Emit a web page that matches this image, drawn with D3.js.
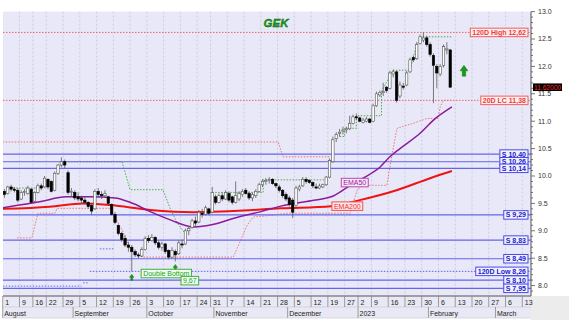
<!DOCTYPE html>
<html><head><meta charset="utf-8">
<script src="https://cdn.jsdelivr.net/npm/d3@7"></script>
<style>body{margin:0;background:#fff}svg{display:block}text{font-family:"Liberation Sans",Arial,sans-serif}</style>
</head><body><svg id="c" width="569" height="323"></svg>
<script>
// ---------- data ----------
const title = "GEK";
const weekLabels = ["1","9","16","22","29","5","12","19","26","3","10","17","24","31","7","14","21","28","5","12","19","27","2","9","16","23","30","6","13","20","27","6","13"];
const weekSlots = [0,5,9,13,18,23,28,33,38,43,48,53,58,62,67,72,77,82,87,92,97,102,106,110,115,120,125,130,135,140,145,150,155];
const monthLabels = ["August","September","October","November","December","2023","February","March"];
const monthSlots = [0,21,43,63,85,106,127,147];

const open = [9.72,9.68,9.80,9.76,9.74,9.58,9.70,9.68,9.76,9.54,
9.70,9.82,9.80,9.94,9.90,9.74,10.05,10.20,10.26,10.06,
9.70,9.70,9.62,9.60,9.56,9.52,9.46,9.40,9.72,9.66,
9.64,9.62,9.48,9.30,9.10,8.95,8.86,8.74,8.70,8.62,
8.56,8.54,8.66,8.86,8.82,8.88,8.78,8.70,8.76,8.64,
8.52,8.62,8.58,8.76,8.76,9.00,9.06,9.18,9.16,9.32,
9.30,9.40,9.34,9.62,9.52,9.64,9.58,9.68,9.62,9.52,
9.58,9.66,9.74,9.68,9.60,9.64,9.72,9.84,9.90,9.92,
9.94,9.86,9.80,9.74,9.66,9.60,9.56,9.46,9.76,9.82,
9.94,9.92,9.88,9.80,9.78,9.80,9.84,9.98,10.26,10.68,
10.78,10.82,10.84,10.86,10.96,11.08,11.06,10.98,11.00,11.04,
11.00,11.28,11.48,11.52,11.62,11.60,11.86,11.90,11.46,11.64,
11.66,11.90,12.16,12.14,12.42,12.48,12.52,12.40,12.20,12.00,
11.86,12.02,12.30,12.30];
const high = [9.76,9.82,9.84,9.80,9.78,9.74,9.76,9.82,9.78,9.72,
9.86,9.86,10.00,9.96,9.92,10.08,10.22,10.34,10.30,10.10,
9.78,9.74,9.70,9.64,9.62,9.54,9.48,9.76,9.78,9.72,
9.74,9.64,9.50,9.34,9.12,8.98,8.92,8.80,8.74,8.66,
8.60,8.70,8.90,8.92,8.94,8.90,8.82,8.80,8.78,8.66,
8.70,8.66,8.82,8.84,9.04,9.08,9.22,9.26,9.38,9.40,
9.46,9.42,9.80,9.66,9.68,9.70,9.74,9.72,9.64,9.90,
9.72,9.76,9.78,9.72,9.70,9.76,9.88,9.94,9.96,9.98,
9.96,9.88,9.84,9.76,9.70,9.64,9.60,9.82,9.84,9.98,
9.98,9.94,9.90,9.86,9.86,9.86,10.00,10.32,10.72,10.80,
10.86,10.90,10.90,11.10,11.12,11.14,11.08,11.06,11.08,11.06,
11.32,11.54,11.56,11.70,11.64,11.92,11.94,11.92,11.72,11.70,
11.92,12.16,12.20,12.44,12.58,12.62,12.56,12.44,12.24,12.04,
12.04,12.40,12.44,12.32];
const low = [9.60,9.66,9.72,9.70,9.52,9.56,9.64,9.66,9.50,9.52,
9.68,9.74,9.78,9.76,9.70,9.72,10.02,10.16,10.14,9.66,
9.62,9.56,9.54,9.50,9.48,9.40,9.29,9.38,9.62,9.58,
9.60,9.48,9.28,9.12,8.92,8.80,8.70,8.62,8.26,8.52,
8.50,8.52,8.64,8.78,8.80,8.74,8.66,8.64,8.58,8.48,
8.50,8.44,8.56,8.68,8.74,8.92,9.04,9.08,9.14,9.24,
9.28,9.28,9.32,9.48,9.50,9.54,9.56,9.52,9.48,9.50,
9.54,9.62,9.66,9.56,9.54,9.60,9.70,9.80,9.84,9.86,
9.84,9.78,9.70,9.60,9.54,9.44,9.23,9.44,9.72,9.80,
9.86,9.86,9.78,9.76,9.76,9.78,9.82,9.96,10.24,10.62,
10.72,10.76,10.78,10.84,10.94,11.02,10.98,10.96,10.98,10.96,
10.98,11.26,11.44,11.46,11.52,11.58,11.80,11.34,11.42,11.58,
11.64,11.88,12.08,12.12,12.40,12.44,12.36,12.18,11.33,11.60,
11.82,11.98,12.22,11.62];
const close = [9.66,9.80,9.76,9.74,9.56,9.70,9.72,9.78,9.52,9.70,
9.82,9.78,9.96,9.80,9.72,10.05,10.20,10.26,10.20,9.70,
9.72,9.60,9.58,9.56,9.52,9.44,9.36,9.72,9.66,9.64,
9.68,9.50,9.30,9.15,8.95,8.84,8.74,8.70,8.62,8.56,
8.54,8.66,8.86,8.82,8.88,8.78,8.70,8.76,8.62,8.52,
8.64,8.56,8.78,8.74,9.00,9.04,9.18,9.14,9.34,9.30,
9.42,9.32,9.70,9.52,9.64,9.58,9.70,9.56,9.52,9.64,
9.68,9.72,9.68,9.60,9.66,9.72,9.84,9.90,9.92,9.94,
9.86,9.82,9.74,9.64,9.58,9.48,9.34,9.78,9.80,9.94,
9.90,9.88,9.82,9.78,9.82,9.84,9.98,10.28,10.66,10.76,
10.80,10.84,10.86,10.96,11.08,11.06,11.00,11.02,11.04,10.98,
11.28,11.50,11.52,11.54,11.56,11.88,11.90,11.38,11.66,11.62,
11.88,12.12,12.12,12.40,12.54,12.52,12.40,12.22,12.02,11.88,
12.00,12.36,12.32,11.62];

const ema50Day = [0,5,11,19,26,33.5,38,44,50,57,63,69,77,83,92,98,103,107.5,112.5,115.5,118.5,124.5,128.5,134];
const ema50 = [9.42,9.47,9.53,9.62,9.62,9.60,9.52,9.35,9.20,9.07,9.12,9.23,9.35,9.45,9.55,9.62,9.80,9.96,10.16,10.35,10.50,10.78,11.02,11.26];
const ema200Day = [0,14,24,32,44,57,69,83,98,106.5,117.5,127.5,134];
const ema200 = [9.40,9.44,9.50,9.47,9.38,9.34,9.36,9.41,9.45,9.56,9.74,9.96,10.09];

// 20-day highest close (green dotted), null = gap
const hcDay = [1.3,11,null,17.7,35.6,38,47.8,50,52,54.4,null,62.5,77.7,77.7,97,null,100.5,102,102,105.5,105.5,113,113,116.4,121.5,123.5,125,134];
const hcVal = [9.78,9.78,null,10.26,10.26,9.75,9.75,9.40,9.15,8.95,null,9.70,9.70,9.93,9.93,null,10.72,10.72,10.87,10.87,11.10,11.10,11.54,11.93,11.93,12.40,12.54,12.54];
// 20-day lowest close (pink dotted)
const lcDay = [4.3,8.7,10.5,15.6,16.2,32,32.6,34.4,35.9,37.4,38.9,41.9,68.8,70.8,72.9,74.7,79.7,84.8,103.7,105.7,107.5,114.6,115.5,116.4,117.6,122.4,126.6,129.9,130.5,131.4,134];
const lcVal = [8.87,8.87,9.32,9.32,9.41,9.41,9.35,9.15,8.98,8.75,8.60,8.52,8.52,8.80,9.10,9.25,9.28,9.32,9.32,9.74,9.83,9.83,10.16,10.47,10.87,10.96,11.05,11.05,11.26,11.38,11.38];
// 120-day high history (pink dotted) and 120-day low history (blue dotted)
const hhDay = [0,82.2,83.6,97.6];
const hhVal = [10.62,10.62,10.35,10.35];
const llDay = [0,23.5,null,24,25.5,null,29,33];
const llVal = [7.99,7.99,null,8.05,8.05,null,8.67,8.67];

const supports = [10.40,10.26,10.14,9.29,8.83,8.49,8.10,7.95];
const high120 = 12.62, lc20 = 11.38, low120 = 8.26, lastPrice = 11.62;
const doubleBottomDays = [38.5,51.5];
const doubleBottomLows = [8.26,8.44];
const dbTarget = "9,67";
const yTicks = [8.0,8.5,9.0,9.5,10.0,10.5,11.0,11.5,12.0,12.5,13.0];

// ---------- layout ----------
const svg = d3.select("#c");
const L = 3, R = 531, T = 11.6, B = 296;
const x = d3.scaleLinear().domain([0,155]).range([2.7,522.3]);
const y = d3.scaleLinear().domain([7.81,13.0]).range([B,T]);
const fmt = v => v.toFixed(2).replace(".",",");

svg.append("rect").attr("width",569).attr("height",323).attr("fill","#fff");
svg.append("rect").attr("x",L).attr("y",T).attr("width",R-L).attr("height",B-T).attr("fill","#e8e8f8");
// bottom axis area
svg.append("rect").attr("x",L).attr("y",B).attr("width",R-L).attr("height",22).attr("fill","#e9e9f5");
svg.append("rect").attr("x",R).attr("y",B).attr("width",569-R).attr("height",24).attr("fill","#ececec");

const clip = svg.append("clipPath").attr("id","pc").append("rect").attr("x",L).attr("y",T).attr("width",R-L).attr("height",B-T);
const g = svg.append("g").attr("clip-path","url(#pc)");

// vertical grid
g.selectAll("line.vg").data(weekSlots).join("line")
  .attr("x1",d=>x(d)).attr("x2",d=>x(d)).attr("y1",T).attr("y2",B)
  .attr("stroke","#c6c6d0").attr("stroke-width",0.8).attr("stroke-dasharray","2,2");

const dotted = (sel, color, w) => sel.attr("fill","none").attr("stroke",color).attr("stroke-width",w||1).attr("stroke-dasharray","1.5,1.5");
const lineGen = d3.line().defined(d=>d[0]!==null).x(d=>x(d[0])).y(d=>y(d[1]));
const zip = (a,b)=>a.map((v,i)=>[v,b[i]]);

// historical dotted lines
g.append("path").attr("d",lineGen(zip(hhDay,hhVal))).call(dotted,"#f07070");
g.append("path").attr("d",lineGen(zip(llDay,llVal))).call(dotted,"#6a6af0");
g.append("path").attr("d",lineGen(zip(lcDay,lcVal))).call(dotted,"#f47474");
g.append("path").attr("d",lineGen(zip(hcDay,hcVal))).call(dotted,"#48b048");

// full-width reference lines
g.append("line").attr("x1",L).attr("x2",R).attr("y1",y(high120)).attr("y2",y(high120)).call(dotted,"#f06464");
g.append("line").attr("x1",L).attr("x2",R).attr("y1",y(lc20)).attr("y2",y(lc20)).call(dotted,"#f06464");
g.append("line").attr("x1",x(26)).attr("x2",R).attr("y1",y(low120)).attr("y2",y(low120)).call(dotted,"#6060ee");

// support lines
g.selectAll("line.sup").data(supports).join("line")
  .attr("x1",L).attr("x2",R).attr("y1",d=>y(d)).attr("y2",d=>y(d))
  .attr("stroke","#6464ee").attr("stroke-width",1.2);

// EMAs
const curve = d3.line().x(d=>x(d[0])).y(d=>y(d[1])).curve(d3.curveMonotoneX);
g.append("path").attr("d",curve(zip(ema200Day,ema200))).attr("fill","none").attr("stroke","#ee1414").attr("stroke-width",2);
g.append("path").attr("d",curve(zip(ema50Day,ema50))).attr("fill","none").attr("stroke","#8c1a9c").attr("stroke-width",1.5);

// candles
const cw = 2.4;
const cg = g.append("g");
close.forEach((c,i)=>{
  const cx = x(i+0.5);
  const up = c >= open[i];
  cg.append("line").attr("x1",cx).attr("x2",cx).attr("y1",y(high[i])).attr("y2",y(low[i]))
    .attr("stroke","#5a5a5a").attr("stroke-width",0.8);
  const top = y(Math.max(open[i],c)), bot = y(Math.min(open[i],c));
  cg.append("rect").attr("x",cx-cw/2).attr("y",top).attr("width",cw).attr("height",Math.max(0.8,bot-top))
    .attr("fill",up?"#ffffff":"#000000").attr("stroke",up?"#555":"#000").attr("stroke-width",0.6);
});

// tag helper
function tag(text, xPos, yPos, anchor, fill, stroke, color, bold, size){
  const gg = svg.append("g");
  const t = gg.append("text").attr("y",yPos).attr("dy","0.35em").attr("font-size",size||7)
    .attr("font-weight",bold?"bold":"normal").attr("fill",color).text(text);
  const w = t.node().getComputedTextLength();
  const bw = w+4, bh = (size||7)+1.5;
  const bx = anchor==="end" ? xPos-bw : xPos;
  gg.insert("rect","text").attr("x",bx).attr("y",yPos-bh/2).attr("width",bw).attr("height",bh)
    .attr("fill",fill).attr("stroke",stroke).attr("stroke-width",1);
  t.attr("x",bx+2);
  return gg;
}

// arrows
function upArrow(cx, tipY, h, wd){
  const hw = wd/2, hh = h*0.5, sw = wd*0.22;
  const p = `M${cx},${tipY} L${cx+hw},${tipY+hh} L${cx+sw},${tipY+hh} L${cx+sw},${tipY+h} L${cx-sw},${tipY+h} L${cx-sw},${tipY+hh} L${cx-hw},${tipY+hh} Z`;
  svg.append("path").attr("d",p).attr("fill","#1a9a1a").attr("stroke","#0f6f0f").attr("stroke-width",0.4);
}
doubleBottomDays.forEach((d,i)=>upArrow(x(d), y(doubleBottomLows[i])+3, 6, 4.5));
upArrow(x(137.6), y(12.02), 11, 8);

// on-chart labels
tag("EMA50", x(101), y(9.88), "start", "#f6e6f6", "#b848b8", "#9a229a", false, 7);
tag("EMA200", x(98.2), y(9.45), "start", "#ffe6e6", "#f05050", "#f03030", false, 7);
tag("Double Bottom", x(41.3), y(8.22), "start", "#f0fff0", "#40b040", "#20a020", false, 7);
tag(dbTarget, x(53.2), y(8.09), "start", "#f0fff0", "#40b040", "#20a020", false, 7);

// right-hand level tags
const TX = 528;
supports.forEach(s=>tag("S "+fmt(s), TX, y(s), "end", "#f2f2ff", "#4a4ae8", "#1a1acc", true, 7));
tag("120D Low "+fmt(low120), TX, y(low120), "end", "#f2f2ff", "#4a4ae8", "#1a1acc", true, 7);
tag("120D High "+fmt(high120), TX, y(high120), "end", "#ffeeee", "#f06060", "#f03a3a", true, 7);
tag("20D LC "+fmt(lc20), TX, y(lc20), "end", "#ffeeee", "#f06060", "#f03a3a", true, 7);

// title
svg.append("text").attr("x",276).attr("y",26.5).attr("text-anchor","middle")
  .attr("font-size",11.5).attr("font-weight","bold").attr("font-style","italic")
  .attr("fill","#18a018").attr("stroke","#0b5a0b").attr("stroke-width",0.35).text(title);

// right axis
svg.append("line").attr("x1",R).attr("x2",R).attr("y1",T).attr("y2",B).attr("stroke","#555").attr("stroke-width",1);
const minor = d3.range(79,131).map(v=>v/10);
svg.selectAll("line.mt").data(minor).join("line")
  .attr("x1",R).attr("x2",d=>R+(Math.abs(d*2-Math.round(d*2))<1e-6?4:2))
  .attr("y1",d=>y(d)).attr("y2",d=>y(d)).attr("stroke","#555").attr("stroke-width",0.8);
svg.selectAll("text.yt").data(yTicks).join("text")
  .attr("x",538).attr("y",d=>y(d)).attr("dy","0.35em").attr("font-size",7).attr("fill","#333")
  .text(d=>d.toFixed(1));

// price tag
{
  const gg = svg.append("g");
  gg.append("rect").attr("x",533).attr("y",y(lastPrice)-3.8).attr("width",29).attr("height",7.6).attr("fill","#000");
  gg.append("text").attr("x",534).attr("y",y(lastPrice)).attr("dy","0.35em").attr("font-size",6.6)
    .attr("fill","#ff2a2a").text(lastPrice.toFixed(5));
}

// bottom axis
svg.append("line").attr("x1",L).attr("x2",R).attr("y1",B).attr("y2",B).attr("stroke","#555").attr("stroke-width",1.2);
svg.append("line").attr("x1",L).attr("x2",R).attr("y1",307).attr("y2",307).attr("stroke","#c8c8d0").attr("stroke-width",0.6);
svg.selectAll("line.wt").data(weekSlots).join("line")
  .attr("x1",d=>x(d)).attr("x2",d=>x(d)).attr("y1",B).attr("y2",307).attr("stroke","#888").attr("stroke-width",0.8);
svg.selectAll("text.wl").data(weekLabels).join("text")
  .attr("x",(d,i)=>x(weekSlots[i])+2.5).attr("y",304.5).attr("font-size",7).attr("fill","#222").text(d=>d);
svg.selectAll("line.mtk").data(monthSlots).join("line")
  .attr("x1",d=>x(d)).attr("x2",d=>x(d)).attr("y1",307).attr("y2",318).attr("stroke","#888").attr("stroke-width",0.8);
svg.selectAll("text.ml").data(monthLabels).join("text")
  .attr("x",(d,i)=>x(monthSlots[i])+1.5).attr("y",316).attr("font-size",7).attr("fill","#222").text(d=>d);
svg.append("line").attr("x1",L).attr("x2",R).attr("y1",318).attr("y2",318).attr("stroke","#c8c8d0").attr("stroke-width",0.6);
</script>
</body></html>
